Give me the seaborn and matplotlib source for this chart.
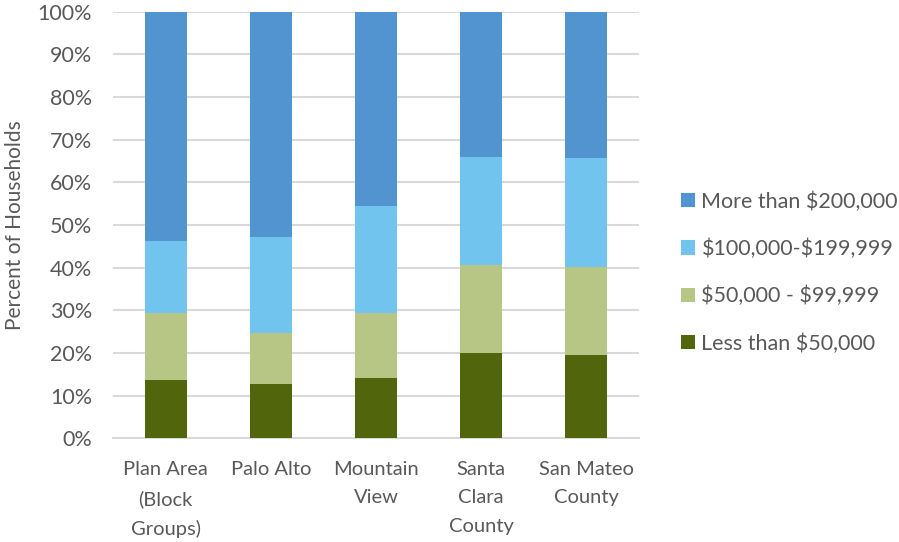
import numpy as np
import pandas as pd
import matplotlib
matplotlib.use("Agg")
import matplotlib.pyplot as plt
import seaborn as sns
from matplotlib.patches import Patch

categories = ["Plan Area\n(Block\nGroups)", "Palo Alto", "Mountain\nView", "Santa\nClara\nCounty", "San Mateo\nCounty"]
series_names = ["Less than $50,000", "$50,000 - $99,999", "$100,000-$199,999", "More than $200,000"]
less_50k = [13.7, 12.7, 14.2, 20.1, 19.5]
k50_99 = [15.6, 12.1, 15.2, 20.5, 20.6]
k100_199 = [17.0, 22.4, 25.1, 25.3, 25.5]
more_200k = [53.7, 52.8, 45.5, 34.1, 34.4]
colors = ["#51660C", "#B8C685", "#70C4EE", "#5294D0"]

sns.set_theme(style="white")
plt.rcParams["font.family"] = ["Lato", "DejaVu Sans"]
plt.rcParams["text.parse_math"] = False
text_color = "#595959"

fig = plt.figure(figsize=(8.99, 5.42), dpi=100)
ax = fig.add_axes([0.1257, 0.1913, 0.5851, 0.7871])

series = [less_50k, k50_99, k100_199, more_200k]
cum = np.cumsum(np.array(series), axis=0)
cum[-1] = np.minimum(cum[-1], 100)
for i in range(len(series) - 1, -1, -1):
    df = pd.DataFrame({"cat": categories, "val": cum[i]})
    sns.barplot(data=df, x="cat", y="val", color=colors[i], width=0.4,
                saturation=1, ax=ax, zorder=3, linewidth=0)

ax.set_ylim(0, 100)
ax.set_xlim(-0.5, 4.5)
ax.set_yticks(np.arange(0, 101, 10))
ax.set_yticklabels([f"{v}%" for v in range(0, 101, 10)])
ax.yaxis.grid(True, color="#d9d9d9", linewidth=1.5, zorder=0)
ax.xaxis.grid(False)
for s in ["top", "right", "left"]:
    ax.spines[s].set_visible(False)
ax.spines["bottom"].set_color("#d9d9d9")
ax.spines["bottom"].set_linewidth(1.5)
ax.tick_params(axis="y", length=0, labelsize=15.5, colors=text_color, pad=15)
ax.tick_params(axis="x", length=0, labelsize=14.5, colors=text_color, pad=16.5)
for lab in ax.get_xticklabels():
    lab.set_linespacing(1.8)
ax.set_xlabel("")
ax.set_ylabel("Percent of Households", fontsize=15, color=text_color)
ax.yaxis.set_label_coords(-0.168, 0.5)

handles = [Patch(facecolor=colors[i], edgecolor="none", label=series_names[i]) for i in range(3, -1, -1)]
leg = fig.legend(handles=handles, loc="center left", bbox_to_anchor=(0.736, 0.497),
                 frameon=False, fontsize=15.5, labelcolor=text_color,
                 handlelength=0.65, handleheight=0.65, handletextpad=0.3,
                 labelspacing=1.25)

fig.savefig("out.png", dpi=100)
